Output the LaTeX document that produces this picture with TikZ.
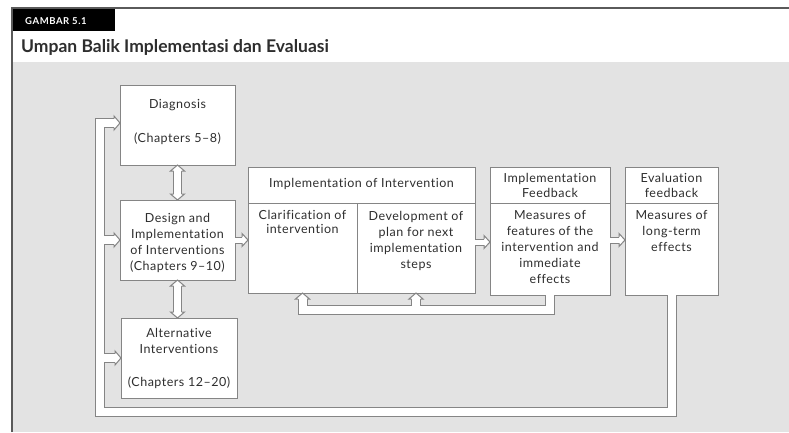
\documentclass[tikz,border=0pt]{standalone}
\usepackage{fontspec}
\setmainfont{Lato}
\newfontfamily\bodyfont[LetterSpace=4,Ligatures=NoCommon]{Lato}
\newfontfamily\tagfont[LetterSpace=6]{Lato}
\usetikzlibrary{calc}
\definecolor{bg}{HTML}{E3E3E3}
\definecolor{ln}{HTML}{858585}
\definecolor{tx}{HTML}{2E2E2E}
\definecolor{frame}{HTML}{5A5A5A}
\newcommand\headR[4]{\filldraw[headst] let \p1=(#1) in (\x1-#4,\y1+#2) -- (\x1-#4,\y1+#3) -- (\x1,\y1) -- (\x1-#4,\y1-#3) -- (\x1-#4,\y1-#2);}
\newcommand\headU[4]{\filldraw[headst] let \p1=(#1) in (\x1+#2,\y1-#4) -- (\x1+#3,\y1-#4) -- (\x1,\y1) -- (\x1-#3,\y1-#4) -- (\x1-#2,\y1-#4);}
\newcommand\headD[4]{\filldraw[headst] let \p1=(#1) in (\x1+#2,\y1+#4) -- (\x1+#3,\y1+#4) -- (\x1,\y1) -- (\x1-#3,\y1+#4) -- (\x1-#2,\y1+#4);}
\begin{document}
\begin{tikzpicture}[x=1pt,y=-1pt,
  box/.style={draw=ln, line width=1pt, fill=white, inner sep=0pt, outer sep=0pt},
  txt/.style={text=tx, font=\bodyfont\fontsize{12.5}{16}\selectfont, align=center, inner sep=0pt},
  headst/.style={fill=white, draw=ln, line width=1pt, line join=miter},
  chanout/.style={draw=ln, line width=10pt, line join=miter},
  chanin/.style={draw=white, line width=8pt, line join=miter},
  shortout/.style={draw=ln, line width=7pt},
  shortin/.style={draw=white, line width=5pt},
  vout/.style={draw=ln, line width=9pt},
  vin/.style={draw=white, line width=7pt}]
\useasboundingbox (0,0) rectangle (789,432);
% background and frame
\fill[white] (0,0) rectangle (789,432);
\fill[bg] (13,62) rectangle (789,432);
\draw[frame, line width=2pt] (12,432) -- (12,8) -- (789,8);
\node[fill=black, minimum width=102pt, minimum height=22pt, inner sep=0pt, anchor=north west] (tag) at (13,9) {};
\node[text=white, font=\tagfont\bfseries\fontsize{9.5}{10}\selectfont, anchor=west, inner sep=0pt] (tagtext) at (25,21) {GAMBAR 5.1};
\node[text=tx, font=\bfseries\fontsize{17.5}{19}\selectfont, anchor=west, inner sep=0pt] (title) at (21,47) {Umpan Balik Implementasi dan Evaluasi};
% left boxes
\node[box, minimum width=115pt, minimum height=80pt] (diag) at (177.5,125) {};
\node[box, minimum width=115pt, minimum height=80pt] (design) at (177.5,240) {};
\node[box, minimum width=116pt, minimum height=80pt] (alt) at (179,358) {};
\node[txt] (t1) at (177.5,105) {Diagnosis};
\node[txt] (t2) at (177.5,139) {(Chapters 5–8)};
\node[txt] (t3) at (177.5,243) {Design and\\Implementation\\of Interventions\\(Chapters 9–10)};
\node[txt] (t4) at (179,341) {Alternative\\Interventions};
\node[txt] (t5) at (179,383) {(Chapters 12–20)};
% implementation of intervention
\node[box, minimum width=227pt, minimum height=36pt] (ihead) at (361.5,185) {};
\node[box, minimum width=109pt, minimum height=90pt] (clar) at (302.5,248) {};
\node[box, minimum width=118pt, minimum height=90pt] (devp) at (416,248) {};
\node[txt] (t6) at (361.5,184) {Implementation of Intervention};
\node[txt, font=\bodyfont\fontsize{12.5}{14}\selectfont, anchor=north] (t7) at (302.5,210) {Clarification of\\intervention};
\node[txt, anchor=north] (t8) at (416,211) {Development of\\plan for next\\implementation\\steps};
% implementation feedback
\node[box, minimum width=120pt, minimum height=36pt] (ifbh) at (550,185) {};
\node[box, minimum width=120pt, minimum height=92pt] (ifbb) at (550,249) {};
\node[txt, font=\bodyfont\fontsize{12.5}{15}\selectfont] (t9) at (550,185) {Implementation\\Feedback};
\node[txt, anchor=north] (t10) at (550,210) {Measures of\\features of the\\intervention and\\immediate\\effects};
% evaluation feedback
\node[box, minimum width=93pt, minimum height=36pt] (efbh) at (671.5,185) {};
\node[box, minimum width=93pt, minimum height=92pt] (efbb) at (671.5,249) {};
\node[txt, font=\bodyfont\fontsize{12.5}{15}\selectfont] (t11) at (671.5,185) {Evaluation\\feedback};
\node[txt, anchor=north] (t12) at (671.5,210) {Measures of\\long-term\\effects};
% helper coordinates
\coordinate (cbl) at (100,412);
\coordinate (c1) at (300,310);
\coordinate (dentry) at ([yshift=2pt]diag.west);
\coordinate (a1) at (clar.west |- design.east);
\coordinate (a2) at ([yshift=6pt]devp.east);
\coordinate (a3) at (ifbb.west |- a2);
\coordinate (a4) at ([yshift=9pt]ifbb.east);
\coordinate (a5) at (efbb.west |- a4);
\coordinate (a6) at (design.south |- alt.north);
% feedback channels: outer grey pass then inner white pass
\foreach \st in {chanout,chanin}{
  \draw[\st] (efbb.south) -- (efbb.south |- cbl) -- (cbl) -- (cbl |- dentry) -- ([xshift=-6pt]dentry);
  \draw[\st] (cbl |- design.west) -- ([xshift=-6pt]design.west);
  \draw[\st] (cbl |- alt.west) -- ([xshift=-6pt]alt.west);
  \draw[\st] (ifbb.south) -- (ifbb.south |- c1) -- (clar.south |- c1) -- ([yshift=-6pt]clar.south);
  \draw[\st] (devp.south |- c1) -- ([yshift=-6pt]devp.south);
}
\headR{dentry}{4.5pt}{7pt}{6pt}
\headR{design.west}{4.5pt}{7pt}{6pt}
\headR{alt.west}{4.5pt}{7pt}{6pt}
\headU{clar.south}{4.5pt}{7pt}{6pt}
\headU{devp.south}{4.5pt}{7pt}{6pt}
% short forward arrows
\foreach \st in {shortout,shortin}{
  \draw[\st] (design.east) -- ([xshift=-6pt]a1);
  \draw[\st] (a2) -- ([xshift=-6pt]a3);
  \draw[\st] (a4) -- ([xshift=-6pt]a5);
}
\headR{a1}{3pt}{6.5pt}{6pt}
\headR{a3}{3pt}{6.5pt}{6pt}
\headR{a5}{3pt}{6.5pt}{6pt}
% vertical double arrows
\foreach \st in {vout,vin}{
  \draw[\st] ([yshift=-6pt]diag.south) -- ([yshift=6pt]design.north);
  \draw[\st] ([yshift=-6pt]design.south) -- ([yshift=6pt]a6);
}
\headU{diag.south}{4pt}{7pt}{6pt}
\headD{design.north}{4pt}{7pt}{6pt}
\headU{design.south}{4pt}{7pt}{6pt}
\headD{a6}{4pt}{7pt}{6pt}
\end{tikzpicture}
\end{document}
